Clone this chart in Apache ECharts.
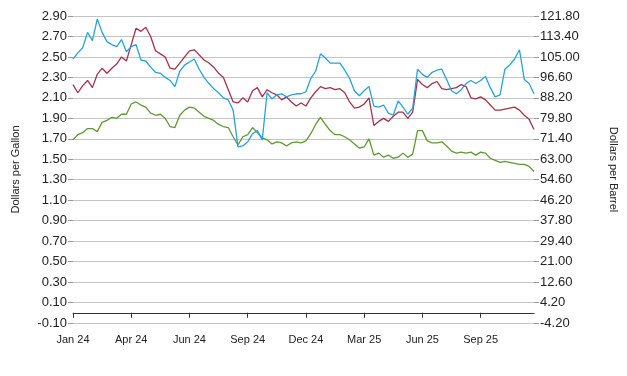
<!DOCTYPE html>
<html>
<head>
<meta charset="utf-8">
<script src="https://cdn.jsdelivr.net/npm/echarts@6/dist/echarts.min.js"></script>
<style>
  html, body { margin: 0; padding: 0; background: #fff; }
  #chart { width: 627px; height: 376px; }
</style>
</head>
<body>
<div id="chart"></div>
<script>
// weekly points, Jan 2024 - Nov 2025
const xTickLabels = ['Jan 24', 'Apr 24', 'Jun 24', 'Sep 24', 'Dec 24', 'Mar 25', 'Jun 25', 'Sep 25']
const ticksEvery = 12

const blue = [
  2.48, 2.54, 2.59, 2.74, 2.66, 2.87, 2.74, 2.65, 2.62, 2.60, 2.67, 2.55,
  2.60, 2.62, 2.47, 2.46, 2.40, 2.35, 2.34, 2.30, 2.27, 2.21, 2.36, 2.42,
  2.45, 2.48, 2.38, 2.30, 2.24, 2.19, 2.15, 2.10, 2.08, 1.98, 1.62, 1.63,
  1.67, 1.75, 1.78, 1.69, 2.15, 2.09, 2.13, 2.14, 2.11, 2.13, 2.14, 2.14,
  2.16, 2.29, 2.36, 2.53, 2.49, 2.44, 2.44, 2.44, 2.37, 2.29, 2.17, 2.12,
  2.17, 2.21, 2.02, 2.01, 2.03, 1.95, 1.93, 2.07, 2.01, 1.94, 2.00, 2.38,
  2.33, 2.30, 2.35, 2.37, 2.38, 2.28, 2.17, 2.14, 2.18, 2.24, 2.27, 2.24,
  2.27, 2.31, 2.20, 2.11, 2.13, 2.38, 2.42, 2.48, 2.57, 2.28, 2.24, 2.14
]
const red = [
  2.23, 2.15, 2.22, 2.27, 2.20, 2.33, 2.39, 2.34, 2.39, 2.43, 2.50, 2.46,
  2.62, 2.78, 2.75, 2.79, 2.70, 2.56, 2.53, 2.50, 2.39, 2.38, 2.44, 2.50,
  2.56, 2.57, 2.52, 2.47, 2.44, 2.40, 2.34, 2.30, 2.18, 2.06, 2.05, 2.10,
  2.06, 2.17, 2.20, 2.11, 2.18, 2.15, 2.13, 2.08, 2.11, 2.06, 2.02, 2.05,
  2.02, 2.10, 2.16, 2.21, 2.19, 2.20, 2.18, 2.19, 2.15, 2.06, 2.00, 2.01,
  2.04, 2.10, 1.83, 1.87, 1.90, 1.87, 1.92, 1.96, 1.96, 1.90, 1.96, 2.28,
  2.23, 2.20, 2.24, 2.26, 2.19, 2.18, 2.19, 2.20, 2.23, 2.21, 2.10, 2.09,
  2.11, 2.08, 2.03, 1.98, 1.98, 1.99, 2.00, 2.01, 1.98, 1.93, 1.89, 1.79
]
const green = [
  1.69, 1.74, 1.76, 1.80, 1.80, 1.77, 1.86, 1.88, 1.91, 1.90, 1.94, 1.94,
  2.04, 2.06, 2.03, 2.01, 1.95, 1.93, 1.94, 1.90, 1.82, 1.81, 1.93, 1.98,
  2.01, 2.00, 1.96, 1.92, 1.90, 1.88, 1.84, 1.82, 1.81, 1.72, 1.64, 1.72,
  1.74, 1.81, 1.76, 1.71, 1.69, 1.65, 1.67, 1.66, 1.63, 1.66, 1.67, 1.66,
  1.68, 1.75, 1.84, 1.91, 1.84, 1.78, 1.74, 1.74, 1.72, 1.69, 1.65, 1.61,
  1.62, 1.70, 1.54, 1.56, 1.52, 1.54, 1.51, 1.52, 1.56, 1.52, 1.55, 1.78,
  1.78, 1.68, 1.66, 1.66, 1.67, 1.63, 1.58, 1.56, 1.57, 1.56, 1.57, 1.54,
  1.57, 1.56, 1.51, 1.49, 1.47, 1.48, 1.47, 1.46, 1.45, 1.45, 1.43, 1.38
]

const weeks = blue.map((v, i) => i)

const chart = echarts.init(document.getElementById('chart'))
const font = 'Liberation Sans, Arial, sans-serif'

chart.setOption({
  animation: false,
  grid: { left: 73, right: 93, top: 16, bottom: 53 },
  xAxis: {
    type: 'category',
    data: weeks,
    boundaryGap: false,
    axisLine: { lineStyle: { color: '#333', width: 1 } },
    axisTick: { interval: ticksEvery - 1, length: 5, lineStyle: { color: '#333' } },
    axisLabel: {
      interval: ticksEvery - 1,
      color: '#222',
      fontFamily: font,
      fontSize: 11,
      margin: 11,
      formatter: (v, idx) => xTickLabels[idx / ticksEvery] || ''
    },
    splitLine: { show: false }
  },
  yAxis: [{
    type: 'value',
    min: -0.1,
    max: 2.9,
    interval: 0.2,
    name: 'Dollars per Gallon',
    nameLocation: 'middle',
    nameGap: 52,
    nameTextStyle: { color: '#222', fontFamily: font, fontSize: 11 },
    axisLine: { show: false },
    axisTick: { show: true, length: 5, lineStyle: { color: '#999' } },
    axisLabel: {
      color: '#222',
      fontFamily: font,
      fontSize: 13,
      margin: 6,
      formatter: v => v.toFixed(2)
    },
    splitLine: { lineStyle: { color: '#c4c4c4', width: 1 } }
  }, {
    type: 'value',
    position: 'right',
    min: -4.2,
    max: 121.8,
    interval: 8.4,
    name: 'Dollars per Barrel',
    nameLocation: 'middle',
    nameRotate: -90,
    nameGap: 74,
    nameTextStyle: { color: '#222', fontFamily: font, fontSize: 11 },
    axisLine: { show: false },
    axisTick: { show: true, length: 5, lineStyle: { color: '#999' } },
    axisLabel: {
      color: '#222',
      fontFamily: font,
      fontSize: 13,
      margin: 6,
      formatter: v => v.toFixed(2)
    },
    splitLine: { show: false }
  }],
  series: [
    {
      name: 'red',
      type: 'line',
      data: red,
      showSymbol: false,
      lineStyle: { color: '#a8304b', width: 1.3 },
      itemStyle: { color: '#a8304b' }
    },
    {
      name: 'green',
      type: 'line',
      data: green,
      showSymbol: false,
      lineStyle: { color: '#5f9a33', width: 1.3 },
      itemStyle: { color: '#5f9a33' }
    },
    {
      name: 'blue',
      type: 'line',
      data: blue,
      showSymbol: false,
      lineStyle: { color: '#25a2e0', width: 1.3 },
      itemStyle: { color: '#25a2e0' }
    }
  ]
})
</script>
</body>
</html>
